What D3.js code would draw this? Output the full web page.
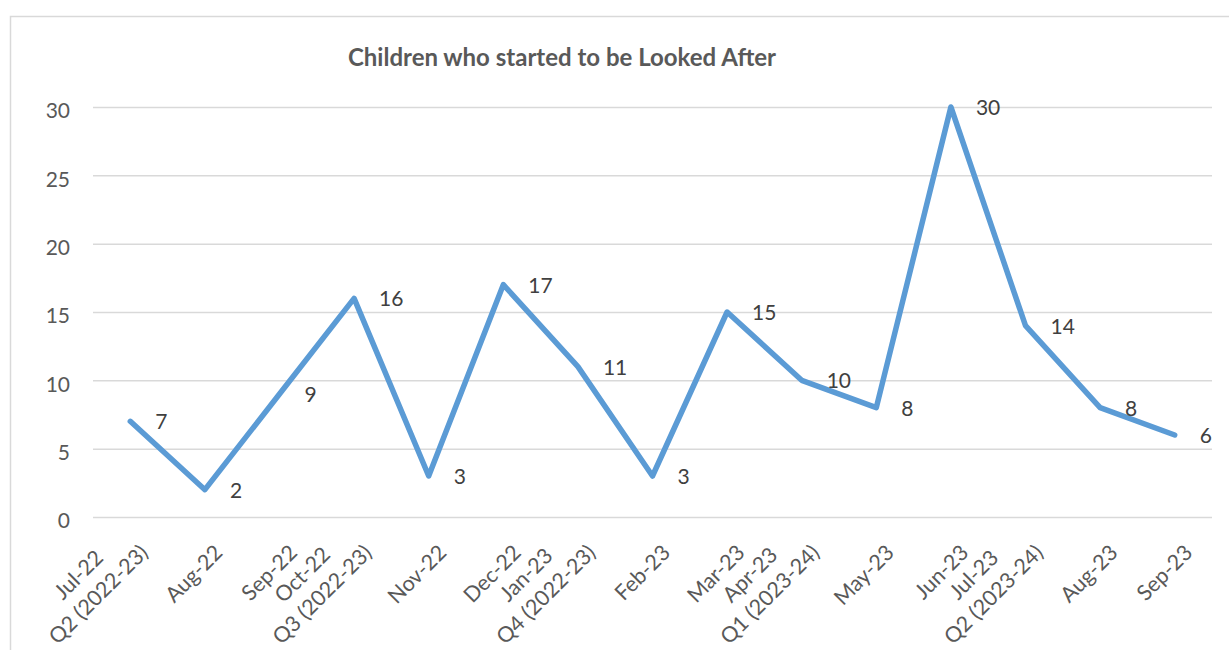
<!DOCTYPE html>
<html>
<head>
<meta charset="utf-8">
<script src="https://cdn.jsdelivr.net/npm/d3@7"></script>
<style>
  body { margin: 0; background: #fff; }
  text { font-family: Lato, "Open Sans", sans-serif; }
</style>
</head>
<body>
<div id="chart"></div>
<script>
// months on the x axis, with the quarter label under the first month of each quarter
var months = ["Jul-22","Aug-22","Sep-22","Oct-22","Nov-22","Dec-22","Jan-23","Feb-23","Mar-23","Apr-23","May-23","Jun-23","Jul-23","Aug-23","Sep-23"];
var quarters = ["Q2 (2022-23)","","","Q3 (2022-23)","","","Q4 (2022-23)","","","Q1 (2023-24)","","","Q2 (2023-24)","",""];
// children who started to be looked after
var values = [7,2,9,16,3,17,11,3,15,10,8,30,14,8,6];
var yTicks = [0,5,10,15,20,25,30];

var W = 1229, H = 650;
var plot = {left: 93, right: 1212, top: 107, bottom: 517};

var svg = d3.select("#chart")
  .append("svg")
    .attr("width", W)
    .attr("height", H);

// chart area border
svg.append("rect")
  .attr("x", 10.5).attr("y", 16.5)
  .attr("width", 1400).attr("height", 800)
  .attr("fill", "#fff")
  .attr("stroke", "#d9d9d9")
  .attr("stroke-width", 1.5);

// title
svg.append("text")
  .attr("x", 562).attr("y", 66)
  .attr("text-anchor", "middle")
  .style("font-size", "24px")
  .style("font-weight", "bold")
  .style("fill", "#595959")
  .text("Children who started to be Looked After");

var x = d3.scaleBand()
  .domain(months)
  .range([plot.left, plot.right])
  .padding(0);

var y = d3.scaleLinear()
  .domain([0, 30])
  .range([plot.bottom, plot.top]);

var cx = function(m) { return x(m) + x.bandwidth() / 2; };

// y axis with gridlines
var yAxis = svg.append("g")
  .attr("transform", "translate(" + plot.left + ",0)")
  .call(d3.axisLeft(y)
    .tickValues(yTicks)
    .tickSize(-(plot.right - plot.left))
    .tickPadding(23));
yAxis.select(".domain").remove();
yAxis.selectAll("line")
  .attr("stroke", "#d9d9d9")
  .attr("stroke-width", 1.5);
yAxis.selectAll("text")
  .attr("dy", "0.52em")
  .style("font-size", "21px")
  .style("font-family", "Lato, sans-serif")
  .style("fill", "#595959");

// x labels, rotated, two lines where a quarter starts
var lh = 28;
var labels = svg.append("g").selectAll("g")
  .data(months)
  .enter()
  .append("g")
    .attr("transform", function(d) { return "translate(" + (cx(d) + 19) + ",554) rotate(-45)"; });

labels.each(function(d, i) {
  var g = d3.select(this);
  var lines = quarters[i] ? [d, quarters[i]] : [d];
  var last = g.append("text")
    .attr("x", 0).attr("y", 0)
    .attr("text-anchor", "end")
    .style("font-size", "21.5px")
    .style("fill", "#595959")
    .text(lines[lines.length - 1]);
  var wLast = last.node().getComputedTextLength();
  for (var k = 0; k < lines.length - 1; k++) {
    g.append("text")
      .attr("x", -wLast / 2)
      .attr("y", -(lines.length - 1 - k) * lh)
      .attr("text-anchor", "middle")
      .style("font-size", "21.5px")
      .style("fill", "#595959")
      .text(lines[k]);
  }
});

// the line
var line = d3.line()
  .x(function(d, i) { return cx(months[i]); })
  .y(function(d) { return y(d); });

svg.append("path")
  .datum(values)
  .attr("d", line)
  .attr("fill", "none")
  .attr("stroke", "#5b9bd5")
  .attr("stroke-width", 5.5)
  .attr("stroke-linejoin", "round")
  .attr("stroke-linecap", "round");

// data labels
svg.append("g").selectAll("text")
  .data(values)
  .enter()
  .append("text")
    .attr("x", function(d, i) { return cx(months[i]) + 25; })
    .attr("y", function(d) { return y(d) + 8; })
    .style("font-size", "21px")
    .style("fill", "#404040")
    .text(function(d) { return d; });
</script>
</body>
</html>
